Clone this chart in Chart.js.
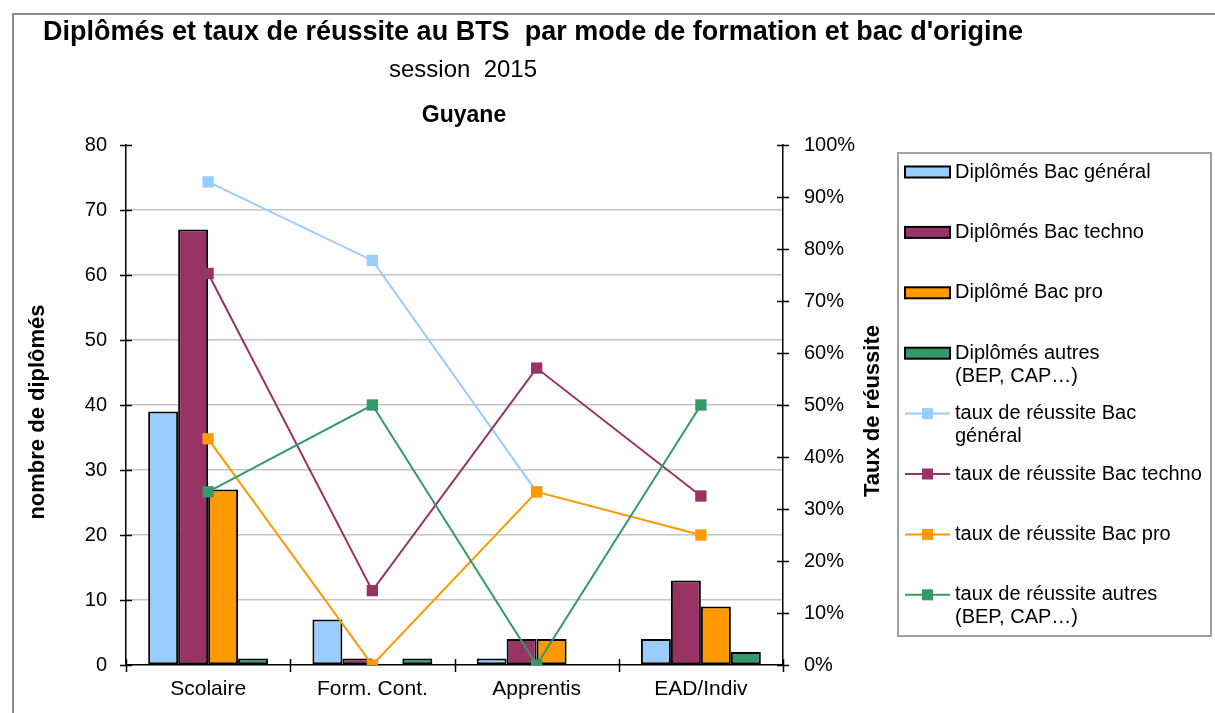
<!DOCTYPE html>
<html>
<head>
<meta charset="utf-8">
<script src="https://cdn.jsdelivr.net/npm/chart.js@4.4.1/dist/chart.umd.min.js"></script>
<style>
html,body{margin:0;padding:0;background:#fff;}
#wrap{width:1215px;height:713px;position:relative;}
</style>
</head>
<body>
<div id="wrap"><canvas id="c" width="1215" height="713"></canvas></div>
<script>
// ---- data ----
const categories = ['Scolaire', 'Form. Cont.', 'Apprentis', 'EAD/Indiv'];
const diplGeneral = [39, 7, 1, 4];
const diplTechno  = [67, 1, 4, 13];
const diplPro     = [27, 0, 4, 9];
const diplAutres  = [1, 1, 0, 2];
const tauxGeneral = [92.9, 77.8, 33.3, null];
const tauxTechno  = [75.3, 14.3, 57.1, 32.5];
const tauxPro     = [43.5, 0, 33.3, 25];
const tauxAutres  = [33.3, 50, 0, 50];
const countTickStep = 10;
const countMax = 80;
const rateTickStep = 10;
const rateMax = 100;
const seriesNames = [
  ['Diplômés Bac général'],
  ['Diplômés Bac techno'],
  ['Diplômé Bac pro'],
  ['Diplômés autres', '(BEP, CAP…)'],
  ['taux de réussite Bac', 'général'],
  ['taux de réussite Bac techno'],
  ['taux de réussite Bac pro'],
  ['taux de réussite autres', '(BEP, CAP…)']
];
const titleText = "Diplômés et taux de réussite au BTS  par mode de formation et bac d'origine";
const subtitleText = 'session  2015';
const regionText = 'Guyane';
const yTitleText = 'nombre de diplômés';
const y1TitleText = 'Taux de réussite';

// ---- styles ----
const FONT = "'Liberation Sans', Arial, sans-serif";
const cBlue = '#99CCFF', cPlum = '#993366', cOrange = '#FF9900', cGreen = '#339966';

function barDs(i, data, color) {
  return { type: 'bar', label: seriesNames[i].join(' '), data: data, backgroundColor: color,
    borderColor: '#000', borderWidth: 2, borderSkipped: false, yAxisID: 'y', order: 10,
    categoryPercentage: 0.73, barPercentage: 1.0 };
}
function lineDs(i, data, color, order) {
  return { type: 'line', label: seriesNames[i].join(' '), data: data, borderColor: color,
    backgroundColor: color, borderWidth: 2, pointStyle: 'rect', pointRadius: 8, pointHoverRadius: 8,
    pointBorderWidth: 0, pointBackgroundColor: color, yAxisID: 'y1', order: order, tension: 0, fill: false, spanGaps: false };
}

const framePlugin = {
  id: 'frame',
  beforeDraw(chart) {
    const ctx = chart.ctx;
    ctx.save();
    ctx.fillStyle = '#fff';
    ctx.fillRect(0, 0, chart.width, chart.height);
    ctx.strokeStyle = '#8c8c8c';
    ctx.lineWidth = 2;
    ctx.beginPath();
    ctx.moveTo(13, chart.height);
    ctx.lineTo(13, 14);
    ctx.lineTo(chart.width, 14);
    ctx.stroke();
    ctx.restore();
  },
  afterDraw(chart) {
    const ctx = chart.ctx;
    ctx.save();
    ctx.fillStyle = '#000';
    ctx.textBaseline = 'middle';
    // titles
    ctx.textAlign = 'left';
    ctx.font = 'bold 27px ' + FONT;
    ctx.fillText(titleText, 43, 33);
    ctx.textAlign = 'center';
    ctx.font = '24px ' + FONT;
    ctx.fillText(subtitleText, 463, 70);
    ctx.font = 'bold 23px ' + FONT;
    ctx.fillText(regionText, 464, 116);
    // axis titles (both read bottom-to-top)
    ctx.font = 'bold 22px ' + FONT;
    const ca = chart.chartArea;
    const midY = (ca.top + ca.bottom) / 2;
    ctx.save();
    ctx.translate(38, midY + 7);
    ctx.rotate(-Math.PI / 2);
    ctx.fillText(yTitleText, 0, 0);
    ctx.restore();
    ctx.save();
    ctx.translate(873, midY + 6);
    ctx.rotate(-Math.PI / 2);
    ctx.fillText(y1TitleText, 0, 0);
    ctx.restore();

    // cross tick marks
    ctx.strokeStyle = '#000';
    ctx.lineWidth = 1.5;
    const ys = chart.scales.y, y1 = chart.scales.y1, xs = chart.scales.x;
    ctx.beginPath();
    ys.ticks.forEach(t => {
      const p = Math.round(ys.getPixelForValue(t.value)) + 0.5;
      ctx.moveTo(ca.left - 6, p); ctx.lineTo(ca.left + 6, p);
    });
    y1.ticks.forEach(t => {
      const p = Math.round(y1.getPixelForValue(t.value)) + 0.5;
      ctx.moveTo(ca.right - 6, p); ctx.lineTo(ca.right + 6, p);
    });
    const n = categories.length;
    for (let i = 0; i <= n; i++) {
      const p = Math.round(xs.left + i * (xs.width / n)) + 0.5;
      ctx.moveTo(p, ca.bottom - 6); ctx.lineTo(p, ca.bottom + 7);
    }
    ctx.stroke();

    // legend
    const lx = 898, ly = 153, lw = 313, lh = 483;
    ctx.strokeStyle = '#a0a0a0';
    ctx.lineWidth = 2;
    ctx.strokeRect(lx, ly, lw, lh);
    ctx.textAlign = 'left';
    ctx.font = '20px ' + FONT;
    chart.data.datasets.forEach((ds, i) => {
      const cy = 172 + i * 60.4;
      if (ds.type === 'bar') {
        ctx.fillStyle = ds.backgroundColor;
        ctx.fillRect(905, cy - 5.5, 45, 11);
        ctx.strokeStyle = '#000';
        ctx.lineWidth = 2;
        ctx.strokeRect(905, cy - 5.5, 45, 11);
      } else {
        ctx.strokeStyle = ds.borderColor;
        ctx.lineWidth = 2;
        ctx.beginPath();
        ctx.moveTo(905, cy); ctx.lineTo(950, cy);
        ctx.stroke();
        ctx.fillStyle = ds.borderColor;
        ctx.fillRect(922, cy - 5.5, 11, 11);
      }
      ctx.fillStyle = '#000';
      seriesNames[i].forEach((line, j) => {
        ctx.fillText(line, 955, cy + j * 23);
      });
    });
    ctx.restore();
  }
};

new Chart(document.getElementById('c'), {
  data: {
    labels: categories,
    datasets: [
      barDs(0, diplGeneral, cBlue),
      barDs(1, diplTechno, cPlum),
      barDs(2, diplPro, cOrange),
      barDs(3, diplAutres, cGreen),
      lineDs(4, tauxGeneral, cBlue, 4),
      lineDs(5, tauxTechno, cPlum, 3),
      lineDs(6, tauxPro, cOrange, 2),
      lineDs(7, tauxAutres, cGreen, 1)
    ]
  },
  options: {
    responsive: false,
    animation: false,
    devicePixelRatio: 1,
    layout: { padding: { top: 145, left: 0, right: 318, bottom: 8 } },
    plugins: { legend: { display: false }, title: { display: false }, tooltip: { enabled: false } },
    scales: {
      x: {
        type: 'category',
        offset: true,
        grid: { display: false, drawTicks: false },
        border: { display: true, color: '#000', width: 1.5 },
        ticks: { color: '#000', font: { family: FONT, size: 21 }, padding: 12, maxRotation: 0, autoSkip: false },
        afterFit(s) { s.height = 40; }
      },
      y: {
        position: 'left',
        min: 0, max: countMax,
        grid: {
          drawTicks: false,
          color: c => (c.tick && c.tick.value > 0 && c.tick.value < countMax) ? '#c4c4c4' : 'rgba(0,0,0,0)',
          lineWidth: 1.5
        },
        border: { display: true, color: '#000', width: 1.5 },
        ticks: { stepSize: countTickStep, color: '#000', font: { family: FONT, size: 20 }, padding: 19 },
        afterFit(s) { s.width = 126; }
      },
      y1: {
        position: 'right',
        min: 0, max: rateMax,
        grid: { drawOnChartArea: false, drawTicks: false },
        border: { display: true, color: '#000', width: 1.5 },
        ticks: { stepSize: rateTickStep, color: '#000', font: { family: FONT, size: 20 }, padding: 21,
          callback: v => v + '%' },
        afterFit(s) { s.width = 114; }
      }
    }
  },
  plugins: [framePlugin]
});
</script>
</body>
</html>
